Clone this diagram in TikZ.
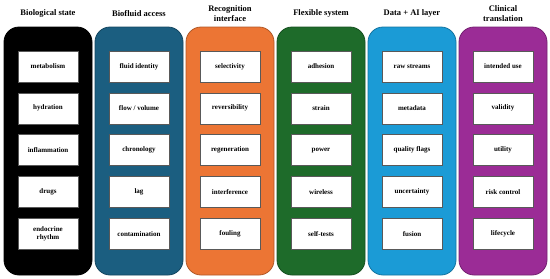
\documentclass[tikz,border=0pt]{standalone}
\usepackage{fontspec}
\setmainfont{Liberation Serif}
\definecolor{cbio}{RGB}{0,0,0}
\definecolor{cfluid}{RGB}{27,94,128}
\definecolor{crec}{RGB}{236,117,52}
\definecolor{cflex}{RGB}{30,107,42}
\definecolor{cdata}{RGB}{27,155,214}
\definecolor{cclin}{RGB}{155,44,150}

\begin{document}
\begin{tikzpicture}[x=1pt, y=-1pt,
    column/.style={draw=#1!75!black, fill=#1, line width=0.8pt, rounded corners=15pt,
        minimum width=88pt, minimum height=248pt, inner sep=0pt},
    item/.style={draw=black!65, fill=white, line width=0.5pt, minimum width=60pt,
        minimum height=31pt, inner sep=1pt, align=center,
        font=\bfseries\fontsize{7}{8}\selectfont},
    title/.style={align=center, font=\bfseries\fontsize{8.5}{10}\selectfont}]
    \useasboundingbox (0,0) rectangle (550,279);

    % Columns with their items
    \foreach \c/\clr/\ttl/\items [count=\i from 0] in {
        bio/cbio/{Biological state}/{metabolism,hydration,inflammation,drugs,{endocrine\\rhythm}},
        fluid/cfluid/{Biofluid access}/{fluid identity,flow / volume,chronology,lag,contamination},
        rec/crec/{Recognition\\interface}/{selectivity,reversibility,regeneration,interference,fouling},
        flex/cflex/{Flexible system}/{adhesion,strain,power,wireless,self-tests},
        data/cdata/{Data + AI layer}/{raw streams,metadata,quality flags,uncertainty,fusion},
        clin/cclin/{Clinical\\translation}/{intended use,validity,utility,risk control,lifecycle}} {
        \node[column=\clr] (\c) at (48+91*\i, 151) {};
        \node[title] (\c-title) at (48+91*\i, 13.5) {\ttl};
        \foreach \it [count=\j from 0] in \items
            \node[item] (\c-\j) at (48+91*\i, 66.5+41.8*\j) {\it};
    }
\end{tikzpicture}
\end{document}
